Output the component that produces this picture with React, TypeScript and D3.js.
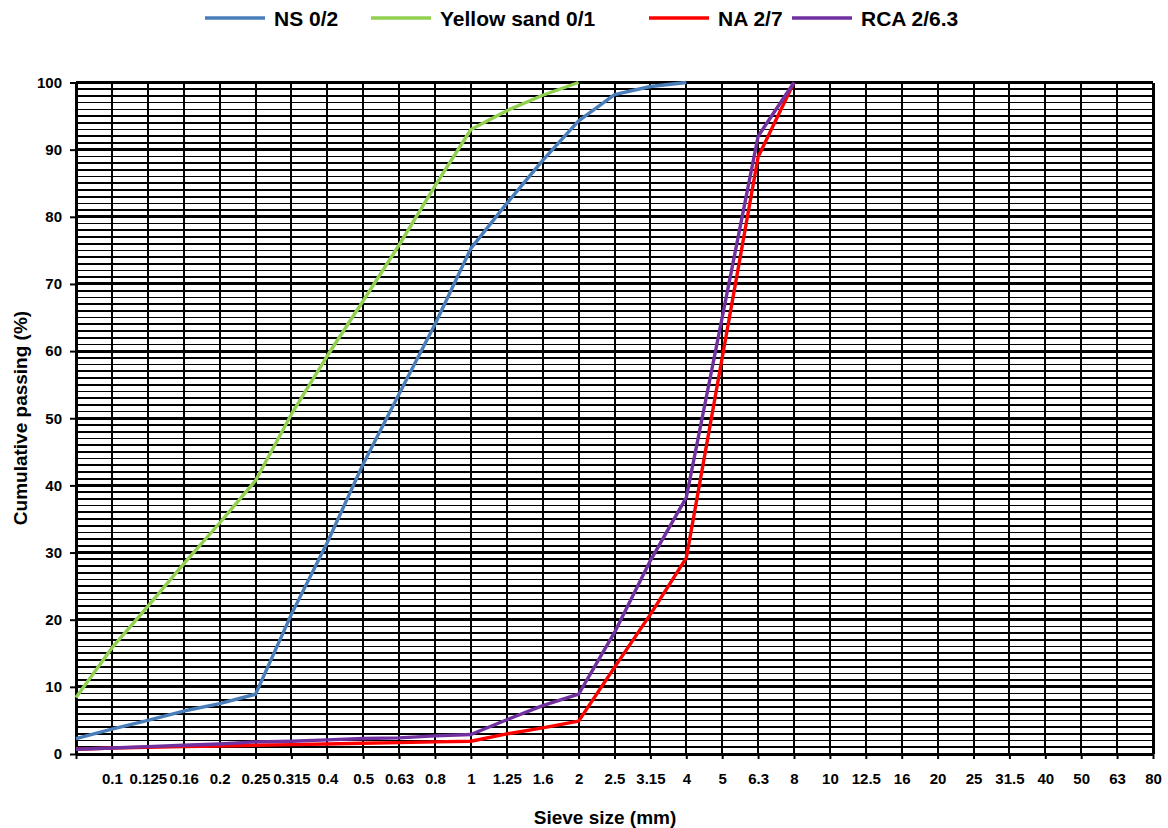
import React, { useEffect, useRef } from 'react';
import * as d3 from 'd3';

// sieve sizes (mm), equally spaced categories; first one has no label
const sieveSizes = ['0.08', '0.1', '0.125', '0.16', '0.2', '0.25', '0.315', '0.4', '0.5', '0.63', '0.8', '1', '1.25', '1.6', '2', '2.5', '3.15', '4', '5', '6.3', '8', '10', '12.5', '16', '20', '25', '31.5', '40', '50', '63', '80'];
const hiddenTick = '0.08';

// cumulative passing (%) per sieve
const ns02 = [2.3, 3.7, 5.0, 6.4, 7.5, 8.9, 20.8, 31.5, 43.2, 53.6, 64, 75.3, 82, 88.4, 94.3, 98.2, 99.4, 100];
const yellowSand01 = [8.4, 15.8, 22, 28.3, 34.4, 40.7, 50.6, 59.3, 67.5, 75.8, 84.6, 93, 95.8, 98.1, 100];
const na27 = [0.7, 0.9, 1.0, 1.1, 1.2, 1.3, 1.4, 1.5, 1.6, 1.7, 1.8, 1.9, 3.0, 3.9, 4.9, 12.9, 20.8, 29.2, 59, 88.9, 100];
const rca263 = [0.7, 0.9, 1.1, 1.3, 1.5, 1.8, 1.9, 2.1, 2.3, 2.4, 2.7, 2.9, 5.1, 7.2, 8.9, 18.1, 28.8, 38.2, 65, 92, 100];

const seriesNames = ['NS 0/2', 'Yellow sand 0/1', 'NA 2/7', 'RCA 2/6.3'];
const seriesValues = [ns02, yellowSand01, na27, rca263];
const seriesColors = ['#4a7ebb', '#92d050', '#ff0000', '#7030a0'];

const FONT = 'Arial, "Liberation Sans", sans-serif';

const App: React.FC = () => {
  const svgRef = useRef<SVGSVGElement | null>(null);

  useEffect(() => {
    if (!svgRef.current) return;
    const svg = d3.select(svgRef.current);
    svg.selectAll('*').remove();

    const left = 76, right = 1153, top = 82.5, bottom = 754;
    const x = d3.scalePoint<string>().domain(sieveSizes).range([left, right]);
    const y = d3.scaleLinear().domain([0, 100]).range([bottom, top]);

    // horizontal grid: every 1 %, heavier every 10 %
    const grid = svg.append('g').attr('shape-rendering', 'crispEdges').attr('stroke', '#000');
    grid.selectAll('line.minor')
      .data(d3.range(1, 100).filter(v => v % 10 !== 0))
      .join('line')
      .attr('class', 'minor')
      .attr('x1', left).attr('x2', right)
      .attr('y1', d => y(d)).attr('y2', d => y(d))
      .attr('stroke-width', 1.7);
    grid.selectAll('line.major')
      .data(d3.range(10, 101, 10))
      .join('line')
      .attr('class', 'major')
      .attr('x1', left).attr('x2', right)
      .attr('y1', d => y(d)).attr('y2', d => y(d))
      .attr('stroke-width', 3);
    grid.selectAll('line.vert')
      .data(sieveSizes.slice(1))
      .join('line')
      .attr('class', 'vert')
      .attr('x1', d => x(d)!).attr('x2', d => x(d)!)
      .attr('y1', top).attr('y2', bottom)
      .attr('stroke-width', d => (d === '80' ? 3 : 2));

    // axes
    const yAxis = svg.append('g')
      .attr('transform', `translate(${left},0)`)
      .call(d3.axisLeft(y).tickValues(d3.range(0, 101, 10)).tickSize(6).tickPadding(8).tickSizeOuter(0));
    const xAxis = svg.append('g')
      .attr('transform', `translate(0,${bottom})`)
      .call(d3.axisBottom(x).tickFormat(d => (d === hiddenTick ? '' : d)).tickSize(5).tickPadding(14).tickSizeOuter(0));
    [yAxis, xAxis].forEach(a => {
      a.select('.domain').attr('stroke', '#000').attr('stroke-width', 3);
      a.selectAll('.tick line').attr('stroke', '#000').attr('stroke-width', 2);
      a.selectAll('.tick text')
        .attr('fill', '#000')
        .attr('font-family', FONT)
        .attr('font-weight', 'bold')
        .attr('font-size', 15);
    });

    // series lines
    const line = d3.line<number>()
      .x((_, i) => x(sieveSizes[i])!)
      .y(d => y(d));
    svg.append('g')
      .selectAll('path')
      .data(seriesValues)
      .join('path')
      .attr('d', d => line(d))
      .attr('fill', 'none')
      .attr('stroke', (_, i) => seriesColors[i])
      .attr('stroke-width', 3.4)
      .attr('stroke-linejoin', 'round');

    // legend
    const legendX = [205, 371, 649, 792];
    const legend = svg.append('g')
      .selectAll('g')
      .data(seriesNames)
      .join('g')
      .attr('transform', (_, i) => `translate(${legendX[i]},18)`);
    legend.append('line')
      .attr('x1', 0).attr('x2', 60)
      .attr('stroke', (_, i) => seriesColors[i])
      .attr('stroke-width', 3.4);
    legend.append('text')
      .attr('x', 69).attr('y', 8)
      .text(d => d)
      .attr('font-family', FONT)
      .attr('font-weight', 'bold')
      .attr('font-size', 21);

    // axis titles
    svg.append('text')
      .attr('x', 605).attr('y', 824)
      .attr('text-anchor', 'middle')
      .attr('font-family', FONT).attr('font-weight', 'bold').attr('font-size', 19)
      .text('Sieve size (mm)');
    svg.append('text')
      .attr('transform', 'translate(27,418) rotate(-90)')
      .attr('text-anchor', 'middle')
      .attr('font-family', FONT).attr('font-weight', 'bold').attr('font-size', 19)
      .text('Cumulative passing (%)');
  }, []);

  return (
    <div>
      <style>{'body { margin: 0; }'}</style>
      <svg ref={svgRef} width={1168} height={828} style={{ display: 'block', background: '#fff' }}></svg>
    </div>
  );
};

export default App;
